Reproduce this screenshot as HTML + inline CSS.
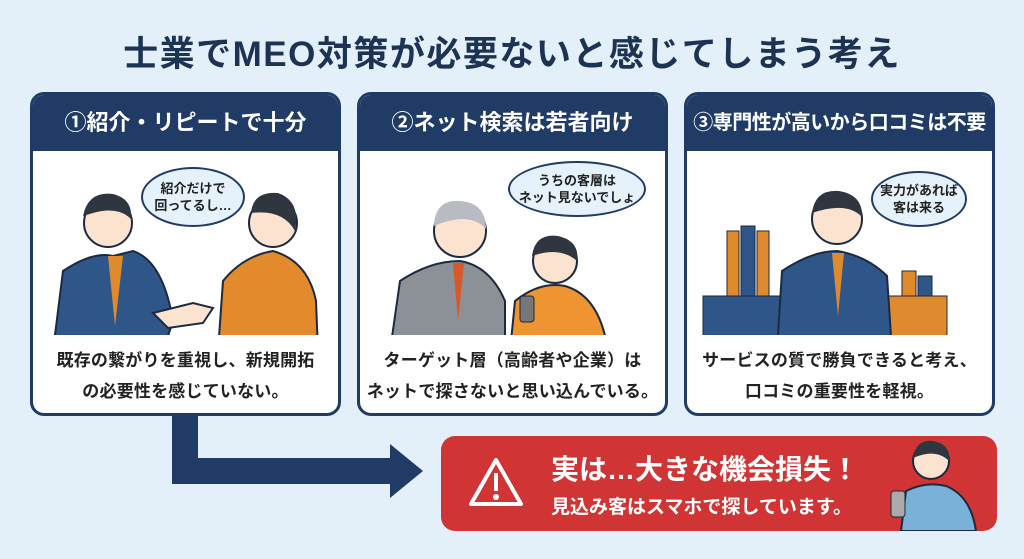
<!DOCTYPE html>
<html><head><meta charset="utf-8"><style>
*{margin:0;padding:0;box-sizing:border-box}
body{width:1024px;height:559px;background:#e3f0f9;font-family:"Liberation Sans","Noto Sans CJK JP",sans-serif;position:relative;overflow:hidden}
.title{position:absolute;top:26px;left:0;width:1024px;text-align:center;font-size:35px;font-weight:bold;color:#1d3354;letter-spacing:1.5px}
.panel{position:absolute;top:92px;width:311px;height:324px;border:3px solid #1f3b66;border-radius:14px;background:#fff;overflow:hidden}
.panel .hd{height:56px;background:#1f3b66;color:#fff;font-size:22px;font-weight:bold;text-align:center;line-height:56px;white-space:nowrap}
.panel .cap{position:absolute;left:0;right:0;top:250px;text-align:center;font-size:17px;font-weight:bold;color:#222;line-height:31px;white-space:nowrap;letter-spacing:0.2px}
.panel svg{position:absolute;left:0;top:56px}
.bub{position:absolute;background:#e6f2fb;border:2px solid #1f3b66;border-radius:50%;text-align:center;font-size:13px;font-weight:bold;color:#222;line-height:17px;display:flex;align-items:center;justify-content:center}
.red{position:absolute;left:441px;top:436px;width:556px;height:95px;background:#d03434;border-radius:14px;overflow:hidden}
.red .t1{position:absolute;left:110px;top:12px;color:#fff;font-size:28px;font-weight:bold}
.red .t2{position:absolute;left:110px;top:56px;color:#fff;font-size:19px;font-weight:bold}
</style></head><body>
<div class="title">士業でMEO対策が必要ないと感じてしまう考え</div>

<div class="panel" style="left:30px">
<div class="hd">①紹介・リピートで十分</div>
<svg width="311" height="184">
<path d="M20 200 L30 120 Q60 100 80 105 L100 100 Q130 110 140 170 L130 200Z" fill="#2f5689" stroke="#1b2a40" stroke-width="2"/>
<path d="M75 105 L82 175 L90 105Z" fill="#e08a2e"/>
<circle cx="75" cy="72" r="24" fill="#fbe3cf" stroke="#1b2a40" stroke-width="2"/>
<path d="M50 65 Q55 40 80 43 Q100 48 98 68 Q85 55 60 62Z" fill="#2f3640"/>
<path d="M185 200 L190 130 Q210 105 240 100 Q275 110 283 150 L285 200Z" fill="#e38a2c" stroke="#1b2a40" stroke-width="2"/>
<circle cx="240" cy="72" r="24" fill="#fbe3cf" stroke="#1b2a40" stroke-width="2"/>
<path d="M218 62 Q220 40 245 42 Q268 50 262 80 Q250 58 218 62Z" fill="#2f3640"/>
<path d="M120 162 L160 152 L180 157 L170 172 L135 177Z" fill="#fbe3cf" stroke="#1b2a40" stroke-width="2"/>
</svg>
<div class="bub" style="left:108px;top:72px;width:104px;height:60px">紹介だけで<br>回ってるし…</div>
<div class="cap">既存の繋がりを重視し、新規開拓<br>の必要性を感じていない。</div>
</div>

<div class="panel" style="left:357px">
<div class="hd">②ネット検索は若者向け</div>
<svg width="311" height="184">
<path d="M30 200 L40 130 Q70 110 100 110 Q130 115 145 150 L145 200Z" fill="#8c9097" stroke="#1b2a40" stroke-width="2"/>
<path d="M93 112 L98 170 L104 112Z" fill="#d9582a"/>
<circle cx="100" cy="80" r="26" fill="#fbe3cf" stroke="#1b2a40" stroke-width="2"/>
<path d="M74 75 Q75 48 100 50 Q126 52 126 78 Q110 60 74 75Z" fill="#b8bcc2"/>
<path d="M150 200 L155 150 Q180 130 205 135 Q240 145 248 200Z" fill="#ee9433" stroke="#1b2a40" stroke-width="2"/>
<circle cx="195" cy="110" r="22" fill="#fbe3cf" stroke="#1b2a40" stroke-width="2"/>
<path d="M172 105 Q175 82 198 85 Q220 90 217 110 Q200 95 172 105Z" fill="#2f3640"/>
<rect x="160" y="145" width="14" height="26" rx="3" fill="#777" stroke="#1b2a40"/>
</svg>
<div class="bub" style="left:148px;top:66px;width:138px;height:56px">うちの客層は<br>ネット見ないでしょ</div>
<div class="cap">ターゲット層（高齢者や企業）は<br>ネットで探さないと思い込んでいる。</div>
</div>

<div class="panel" style="left:684px">
<div class="hd" style="font-size:20px;letter-spacing:-0.5px">③専門性が高いから口コミは不要</div>
<svg width="311" height="184">
<rect x="40" y="80" width="12" height="110" fill="#e08a2e" stroke="#1b2a40"/>
<rect x="54" y="75" width="14" height="115" fill="#2f5689" stroke="#1b2a40"/>
<rect x="70" y="80" width="12" height="110" fill="#e08a2e" stroke="#1b2a40"/>
<rect x="16" y="145" width="80" height="40" fill="#2f5689" stroke="#1b2a40"/>
<rect x="215" y="120" width="14" height="70" fill="#e08a2e" stroke="#1b2a40"/>
<rect x="231" y="125" width="14" height="65" fill="#2f5689" stroke="#1b2a40"/>
<rect x="200" y="145" width="60" height="40" fill="#e08a2e" stroke="#1b2a40"/>
<path d="M90 200 L95 120 Q125 100 150 100 Q180 105 200 125 L205 200Z" fill="#2f5689" stroke="#1b2a40" stroke-width="2"/>
<path d="M145 102 L151 165 L157 102Z" fill="#e08a2e"/>
<circle cx="150" cy="68" r="25" fill="#fbe3cf" stroke="#1b2a40" stroke-width="2"/>
<path d="M125 62 Q128 38 152 40 Q176 44 175 66 Q160 50 125 62Z" fill="#2f3640"/>
</svg>
<div class="bub" style="left:184px;top:76px;width:96px;height:56px">実力があれば<br>客は来る</div>
<div class="cap">サービスの質で勝負できると考え、<br>口コミの重要性を軽視。</div>
</div>

<svg style="position:absolute;left:0;top:0" width="1024" height="559">
<path d="M172 416 L198 416 L198 458 L390 458 L390 444 L423 471 L390 498 L390 484 L172 484Z" fill="#1f3b66"/>
</svg>

<div class="red">
<svg style="position:absolute;left:26px;top:20px" width="58" height="52"><path d="M29 4 L54 48 L4 48Z" fill="none" stroke="#fff" stroke-width="4" stroke-linejoin="round"/><rect x="27" y="17" width="4" height="18" fill="#fff"/><circle cx="29" cy="41" r="3" fill="#fff"/></svg>
<div class="t1">実は…大きな機会損失！</div>
<div class="t2">見込み客はスマホで探しています。</div>
<svg style="position:absolute;left:420px;top:0" width="136" height="95">
<path d="M40 95 L45 55 Q65 45 85 50 Q110 60 115 95Z" fill="#7ab1d8" stroke="#1b2a40" stroke-width="2"/>
<circle cx="70" cy="25" r="18" fill="#fbe3cf" stroke="#1b2a40" stroke-width="2"/>
<path d="M52 22 Q55 3 72 5 Q90 8 88 25 Q75 12 52 22Z" fill="#2f3640"/>
<rect x="30" y="55" width="14" height="26" rx="3" fill="#aaa" stroke="#1b2a40"/>
</svg>
</div>
</body></html>
